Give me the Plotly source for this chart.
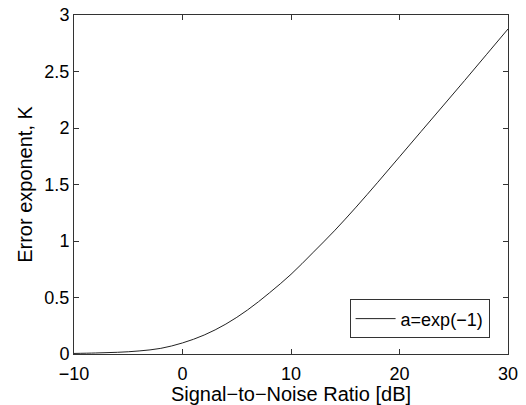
import plotly.graph_objects as go

snr_db = [-10, -8, -6, -4, -2, 0, 2, 4, 6, 8, 10, 12, 14, 16, 18, 20, 22, 24, 26, 28, 30]
error_exponent = [0.005, 0.009, 0.015, 0.027, 0.05, 0.098, 0.168, 0.265, 0.39, 0.54, 0.705,
                  0.895, 1.09, 1.30, 1.52, 1.745, 1.97, 2.195, 2.42, 2.648, 2.876]
series_name = "a=exp(\u22121)"
x_ticks = [-10, 0, 10, 20, 30]
y_ticks = [0, 0.5, 1, 1.5, 2, 2.5, 3]
y_tick_text = ["0", "0.5", "1", "1.5", "2", "2.5", "3"]

font_family = "Liberation Sans, Arial, sans-serif"

fig = go.Figure()
fig.add_trace(go.Scatter(
    x=snr_db, y=error_exponent, mode="lines", name=series_name,
    line=dict(color="#222222", width=1, shape="spline", smoothing=1.0),
))

axis_common = dict(
    showline=True, linecolor="#333333", linewidth=1, mirror="ticks",
    ticks="inside", ticklen=5, tickcolor="#333333", tickwidth=1,
    showgrid=False, zeroline=False, automargin=False,
    tickfont=dict(family=font_family, size=18, color="#000"),
)

fig.update_layout(
    width=526, height=405,
    margin=dict(l=74, r=18, t=15, b=51, pad=0, autoexpand=False),
    paper_bgcolor="white", plot_bgcolor="white",
    font=dict(family=font_family, color="#000"),
    xaxis=dict(range=[-10, 30], tickvals=x_ticks, ticklabelstandoff=3,
               title=dict(text="Signal\u2212to\u2212Noise Ratio [dB]", font=dict(size=20), standoff=4),
               **axis_common),
    yaxis=dict(range=[0, 3], tickvals=y_ticks, ticktext=y_tick_text,
               title=dict(text="Error exponent, K", font=dict(size=20), standoff=6),
               **axis_common),
    showlegend=True,
    legend=dict(x=0.635, y=0.161, xanchor="left", yanchor="top",
                bgcolor="white", bordercolor="#333333", borderwidth=1,
                font=dict(family=font_family, size=18, color="#000"),
                itemwidth=40, tracegroupgap=0),
)

fig.write_html("out.html", config={"displayModeBar": False},
               post_script="document.body.style.margin='0px';")
